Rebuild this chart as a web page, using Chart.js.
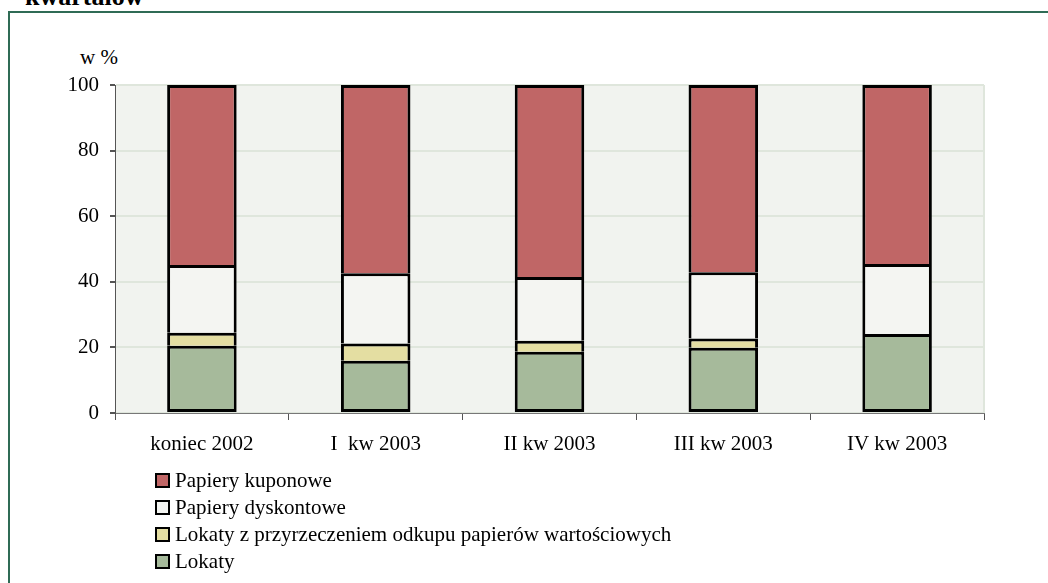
<!DOCTYPE html>
<html>
<head>
<meta charset="utf-8">
<script src="https://cdn.jsdelivr.net/npm/chart.js@4/dist/chart.umd.min.js"></script>
<style>
  html,body{margin:0;padding:0;background:#fff;width:1048px;height:583px;overflow:hidden;font-family:"Liberation Serif","DejaVu Serif",serif;}
  #frame{position:absolute;left:8px;top:11px;width:1100px;height:700px;border:2px solid #2f6b55;box-sizing:border-box;}
  #title{position:absolute;left:25px;top:-16px;font-weight:bold;font-size:26px;line-height:26px;white-space:nowrap;}
  #ytitle{position:absolute;left:80px;top:45px;font-size:21px;line-height:24px;}
  #wrap{position:absolute;left:0;top:0;width:1048px;height:583px;}
  #legend{position:absolute;left:155px;top:468px;font-size:21px;}
  .li{height:27px;line-height:24px;display:flex;align-items:flex-start;}
  .sw{width:11px;height:11px;border:2px solid #000;margin-top:5px;margin-right:5px;flex:none;}
</style>
</head>
<body>
<div id="frame"></div>
<div id="title">kwartałów</div>
<div id="ytitle">w %</div>
<div id="wrap"><canvas id="c" width="1048" height="583"></canvas></div>
<div id="legend"></div>
<script>
const categories = ["koniec 2002", "I  kw 2003", "II kw 2003", "III kw 2003", "IV kw 2003"];
const lokaty = [20.5, 15.9, 18.7, 19.9, 24.1];
const lokatyRepo = [4.0, 5.3, 3.3, 2.8, 0];
const dyskontowe = [20.6, 21.4, 19.5, 20.2, 21.3];
const kuponowe = [54.9, 57.4, 58.5, 57.1, 54.6];
const yTicks = [0, 20, 40, 60, 80, 100];

const seriesNames = ["Lokaty", "Lokaty z przyrzeczeniem odkupu papierów wartościowych", "Papiery dyskontowe", "Papiery kuponowe"];
const seriesColors = ["#a6ba9b", "#e4dea2", "#f4f5f2", "#c06666"];
const seriesData = [lokaty, lokatyRepo, dyskontowe, kuponowe];

const bgPlugin = {
  id: 'plotbg',
  beforeDraw(chart) {
    const {ctx, chartArea: a} = chart;
    ctx.save();
    ctx.fillStyle = '#f1f3ef';
    ctx.fillRect(a.left, a.top, a.right - a.left, a.bottom - a.top);
    ctx.strokeStyle = '#dfe6dc';
    ctx.lineWidth = 2;
    ctx.beginPath();
    ctx.moveTo(a.right, a.top); ctx.lineTo(a.right, a.bottom);
    ctx.stroke();
    ctx.restore();
  }
};

const font = {family: '"Liberation Serif", "DejaVu Serif", serif', size: 21};

new Chart(document.getElementById('c'), {
  type: 'bar',
  data: {
    labels: categories,
    datasets: seriesData.map((d, i) => ({
      label: seriesNames[i],
      data: d,
      backgroundColor: seriesColors[i],
      borderColor: '#000',
      borderWidth: i === 0 ? {top: 3, left: 3, right: 3, bottom: 3} : {top: 3, left: 3, right: 3, bottom: 0},
      borderSkipped: false,
      categoryPercentage: 1.0,
      barPercentage: 0.40
    }))
  },
  options: {
    responsive: false,
    animation: false,
    devicePixelRatio: 1,
    layout: {padding: {left: 0, top: 85, right: 64, bottom: 0}, autoPadding: false},
    plugins: {legend: {display: false}, tooltip: {enabled: false}},
    scales: {
      x: {
        stacked: true,
        grid: {display: true, drawOnChartArea: false, offset: true, tickLength: 7, tickColor: '#555', lineWidth: 1},
        border: {display: true, color: '#777', width: 1},
        ticks: {color: '#000', font: font, padding: 12, maxRotation: 0},
        afterFit(s) { s.height = 170; }
      },
      y: {
        stacked: true,
        min: 0, max: 100,
        afterBuildTicks(s) { s.ticks = yTicks.map(v => ({value: v})); },
        grid: {color: '#dfe6dc', lineWidth: 2, tickLength: 5, tickColor: '#555', drawTicks: true},
        border: {display: true, color: '#555', width: 1},
        ticks: {color: '#000', font: font, padding: 11},
        afterFit(s) { s.width = 115; }
      }
    }
  },
  plugins: [bgPlugin]
});

const leg = document.getElementById('legend');
for (let i = seriesNames.length - 1; i >= 0; i--) {
  const row = document.createElement('div');
  row.className = 'li';
  const sw = document.createElement('span');
  sw.className = 'sw';
  sw.style.background = seriesColors[i];
  const t = document.createElement('span');
  t.textContent = seriesNames[i];
  row.appendChild(sw); row.appendChild(t);
  leg.appendChild(row);
}
</script>
</body>
</html>
